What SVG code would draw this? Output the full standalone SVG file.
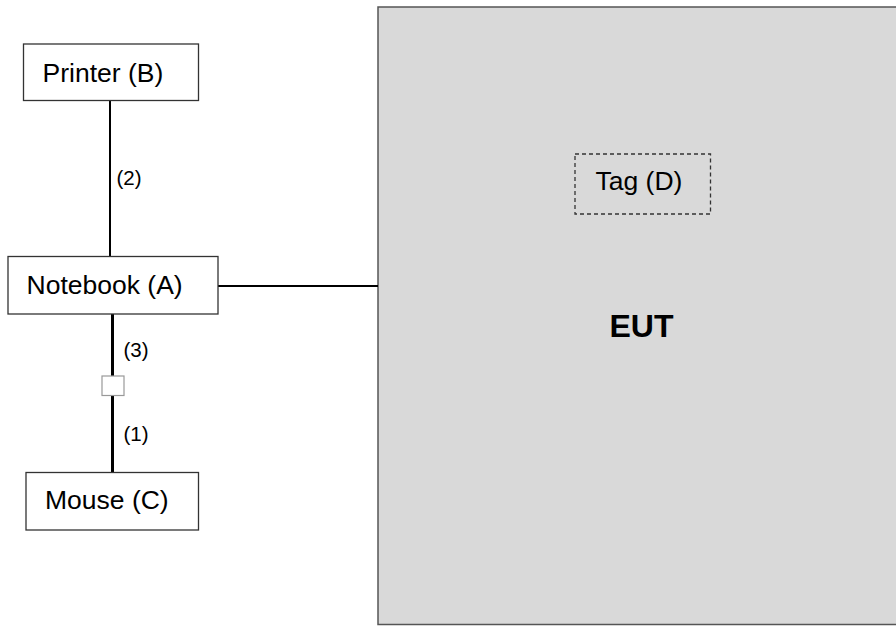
<svg xmlns="http://www.w3.org/2000/svg" width="896" height="626" viewBox="0 0 896 626">
<style>
.box{fill:#fff;stroke:#333;stroke-width:1.3}
.lbl{font-family:"Liberation Sans",Arial,sans-serif;font-size:26.5px;fill:#000}
.small{font-family:"Liberation Sans",Arial,sans-serif;font-size:20.5px;fill:#000}
.wire{stroke:#000;fill:none}
</style>
<rect width="896" height="626" fill="#fff"/>
<g id="eut">
<rect x="378" y="7" width="530" height="617.5" fill="#d9d9d9" stroke="#555" stroke-width="1.5"/>
<text x="609.5" y="336.7" style="font-family:'Liberation Sans',Arial,sans-serif;font-size:32px;font-weight:bold">EUT</text>
</g>
<g id="tag">
<rect x="575" y="154" width="135.5" height="60" fill="none" stroke="#333" stroke-width="1.3" stroke-dasharray="4,3"/>
<text class="lbl" x="595.5" y="190">Tag (D)</text>
</g>
<g id="connectors">
<line class="wire" x1="110" y1="100" x2="110" y2="256.5" stroke-width="2"/>
<line class="wire" x1="218" y1="286" x2="378" y2="286" stroke-width="2"/>
<line class="wire" x1="112.5" y1="314" x2="112.5" y2="376" stroke-width="3"/>
<line class="wire" x1="112.5" y1="395.5" x2="112.5" y2="472.5" stroke-width="3"/>
<text class="small" x="116.5" y="185">(2)</text>
<text class="small" x="123.5" y="357.4">(3)</text>
<text class="small" x="123.5" y="440.7">(1)</text>
</g>
<g id="coupler">
<rect x="102" y="376" width="22" height="19.5" fill="#fff" stroke="#999" stroke-width="1.2"/>
</g>
<g id="printer">
<rect class="box" x="23.5" y="44" width="175" height="56.5"/>
<text class="lbl" x="42.5" y="81.5">Printer (B)</text>
</g>
<g id="notebook">
<rect class="box" x="8" y="256.5" width="210" height="57.5"/>
<text class="lbl" x="26.5" y="293.5">Notebook (A)</text>
</g>
<g id="mouse">
<rect class="box" x="26" y="472.5" width="172.5" height="57.5"/>
<text class="lbl" x="45" y="509">Mouse (C)</text>
</g>
</svg>
